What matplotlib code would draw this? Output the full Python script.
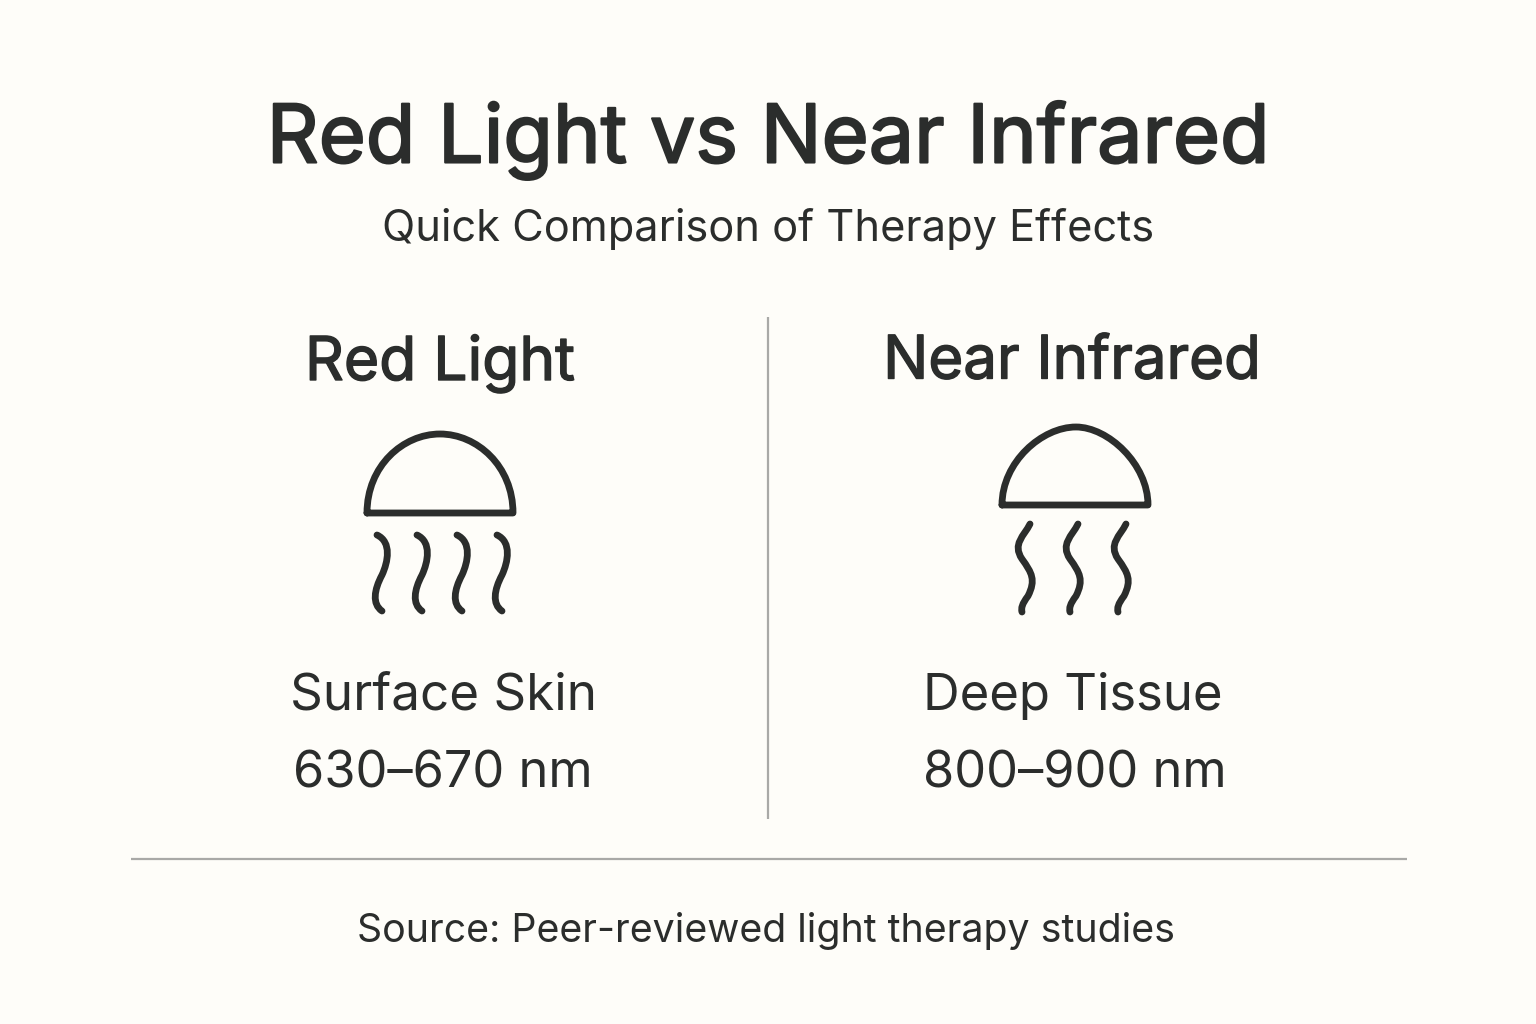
import matplotlib
matplotlib.use("Agg")
import matplotlib.pyplot as plt
import matplotlib.patheffects as pe
from matplotlib.path import Path
from matplotlib.patches import PathPatch

BG = "#fefdf9"
INK = "#2b2d2c"
RULE = "#a9a9a7"

title = "Red Light vs Near Infrared"
subtitle = "Quick Comparison of Therapy Effects"
source = "Source: Peer-reviewed light therapy studies"
headings = ["Red Light", "Near Infrared"]
depths = ["Surface Skin", "Deep Tissue"]
ranges = ["630–670 nm", "800–900 nm"]

fig = plt.figure(figsize=(15.36, 10.24), dpi=100, facecolor=BG)
ax = fig.add_axes([0, 0, 1, 1])
ax.set_xlim(0, 1536)
ax.set_ylim(1024, 0)
ax.axis("off")
plt.rcParams["font.family"] = ["Inter", "DejaVu Sans"]


def put(x, y, s, size, embolden=0.0):
    t = ax.text(x, y, s, fontsize=size, color=INK, ha="center", va="center_baseline")
    if embolden:
        t.set_path_effects([pe.withStroke(linewidth=embolden, foreground=INK)])


put(768, 132, title, 58.2, 1.5)
put(768, 224, subtitle, 31.2)
put(440, 357, headings[0], 43.6, 1.0)
put(1072, 357, headings[1], 43.2, 1.0)
put(443, 691, depths[0], 36.8)
put(1073, 691, depths[1], 36.6)
put(443, 769, ranges[0], 36.4)
put(1075, 769, ranges[1], 36.4)
put(766, 927, source, 28.3)

ax.plot([768, 768], [317, 819], color=RULE, lw=1.6, solid_capstyle="butt")
ax.plot([131, 1407], [859, 859], color=RULE, lw=1.6, solid_capstyle="butt")

C = Path.CURVE4
dome_red = [(367, 513), (367, 466), (403, 434), (440, 434), (477, 434), (513, 466), (513, 513), (367, 513)]
dome_nir = [(1002, 505), (1002, 462), (1042, 427), (1076, 427), (1108, 427), (1148, 464), (1148, 505), (1002, 505)]
dome_codes = [Path.MOVETO, C, C, C, C, C, C, Path.LINETO]

wave_red = [(377, 535), (392, 542), (388, 562), (382, 575), (374, 590), (372, 604), (382, 611)]
wave_red_dx = [0, 40, 80, 120]
wave_nir = [(1030, 524), (1024, 536), (1012, 544), (1022, 559), (1032, 573), (1036, 580), (1028, 596), (1022, 604), (1021, 608), (1022, 612)]
wave_nir_dx = [0, 48, 96]
wave_red_codes = [Path.MOVETO, C, C, C, C, C, C]
wave_nir_codes = [Path.MOVETO, C, C, C, C, C, C, C, C, C]


def stroke(pts, codes, dx=0, lw=4.9):
    p = Path([(x + dx, y) for x, y in pts], codes)
    ax.add_patch(PathPatch(p, fc="none", ec=INK, lw=lw, capstyle="round", joinstyle="round"))


stroke(dome_red, dome_codes)
stroke(dome_nir, dome_codes)
for d in wave_red_dx:
    stroke(wave_red, wave_red_codes, d)
for d in wave_nir_dx:
    stroke(wave_nir, wave_nir_codes, d)

fig.savefig("out.png", dpi=100, facecolor=BG)
